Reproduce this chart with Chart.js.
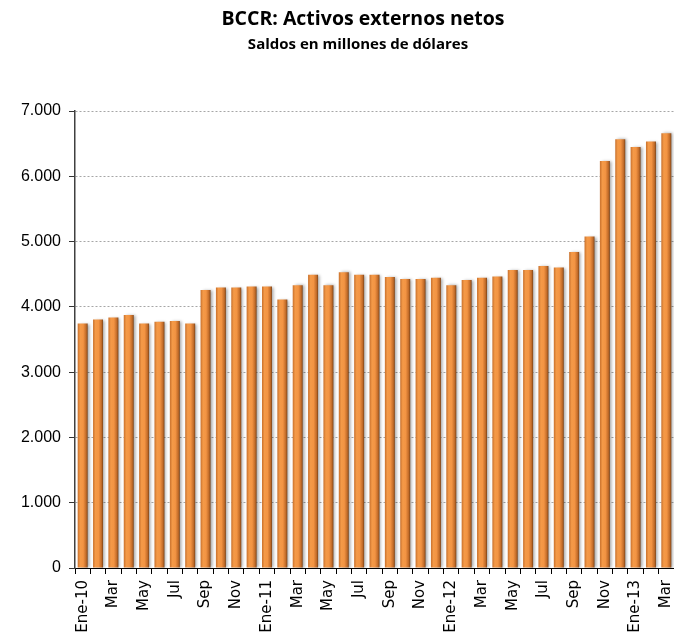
<!DOCTYPE html>
<html>
<head>
<meta charset="utf-8">
<script src="https://cdn.jsdelivr.net/npm/chart.js@4/dist/chart.umd.min.js"></script>
<style>
  html, body { margin: 0; padding: 0; background: #fff; }
  #wrap { width: 674px; height: 639px; }
</style>
</head>
<body>
<div id="wrap"><canvas id="chart"></canvas></div>
<script>
// Tick labels (every other month shown)
const monthLabels = [
  'Ene-10', '', 'Mar', '', 'May', '', 'Jul', '', 'Sep', '', 'Nov', '',
  'Ene-11', '', 'Mar', '', 'May', '', 'Jul', '', 'Sep', '', 'Nov', '',
  'Ene-12', '', 'Mar', '', 'May', '', 'Jul', '', 'Sep', '', 'Nov', '',
  'Ene-13', '', 'Mar'
];

// Saldos en millones de dólares
const netAssets = [
  3745, 3806, 3836, 3877, 3745, 3770, 3785, 3745, 4260, 4296, 4296, 4311,
  4311, 4112, 4331, 4490, 4331, 4530, 4490, 4490, 4459, 4428, 4428, 4444,
  4331, 4413, 4444, 4464, 4566, 4566, 4627, 4602, 4842, 5077, 6235, 6567,
  6450, 6531, 6659
];

const yTicks = [0, 1000, 2000, 3000, 4000, 5000, 6000, 7000];

const titleText = 'BCCR: Activos externos netos';
const subtitleText = 'Saldos en millones de dólares';

function formatThousands(v) {
  return String(v).replace(/\B(?=(\d{3})+(?!\d))/g, '.');
}

function barGradient(context) {
  const chart = context.chart;
  const x = chart.scales.x;
  if (!x || !chart.chartArea) return '#f0913f';
  const center = x.getPixelForValue(context.dataIndex);
  const step = x.getPixelForTick(1) - x.getPixelForTick(0);
  const w = step * 0.65 / 2;
  const g = chart.ctx.createLinearGradient(center - w, 0, center + w, 0);
  g.addColorStop(0, '#c8702c');
  g.addColorStop(0.25, '#f49a48');
  g.addColorStop(0.55, '#f39443');
  g.addColorStop(0.85, '#c06a28');
  g.addColorStop(1, '#7a4318');
  return g;
}

const titlePlugin = {
  id: 'titles',
  afterDraw(chart) {
    const ctx = chart.ctx;
    ctx.save();
    ctx.fillStyle = '#000';
    ctx.textAlign = 'center';
    ctx.textBaseline = 'middle';
    ctx.font = 'bold 19.5px "Open Sans", "Liberation Sans", sans-serif';
    ctx.fillText(titleText, 363, 19);
    ctx.font = 'bold 15px "Open Sans", "Liberation Sans", sans-serif';
    ctx.fillText(subtitleText, 358, 45);
    ctx.restore();
  }
};

const shadowPlugin = {
  id: 'barShadow',
  beforeDatasetsDraw(chart) {
    const ctx = chart.ctx;
    ctx.save();
    ctx.shadowColor = 'rgba(0,0,0,0.35)';
    ctx.shadowBlur = 3;
    ctx.shadowOffsetX = 2;
    ctx.shadowOffsetY = 0;
  },
  afterDatasetsDraw(chart) {
    chart.ctx.restore();
  }
};

new Chart(document.getElementById('chart'), {
  type: 'bar',
  data: {
    labels: monthLabels,
    datasets: [{
      data: netAssets,
      backgroundColor: barGradient,
      borderWidth: 0,
      barPercentage: 0.65,
      categoryPercentage: 1
    }]
  },
  options: {
    responsive: true,
    maintainAspectRatio: false,
    animation: false,
    layout: { padding: { top: 111, right: 0, left: 0, bottom: 0 } },
    plugins: {
      legend: { display: false },
      tooltip: { enabled: false },
      title: { display: false }
    },
    scales: {
      x: {
        afterFit(scale) {
          scale.height = 71;
          scale.paddingLeft = 0;
          scale.paddingRight = 0;
        },
        grid: {
          display: true,
          drawOnChartArea: false,
          drawTicks: true,
          tickLength: 6,
          color: '#000',
          offset: true
        },
        border: { display: true, color: '#000', width: 1 },
        ticks: {
          autoSkip: false,
          maxRotation: 90,
          minRotation: 90,
          padding: 6,
          color: '#000',
          font: { family: '"DejaVu Sans", sans-serif', size: 15 }
        }
      },
      y: {
        min: 0,
        max: 7000,
        afterFit(scale) { scale.width = 75; },
        afterBuildTicks(scale) { scale.ticks = yTicks.map(v => ({ value: v })); },
        grid: {
          color: '#a6a6a6',
          lineWidth: 1,
          drawTicks: true,
          tickLength: 6,
          tickColor: '#333',
          tickBorderDash: [0, 0]
        },
        border: { display: true, color: '#404040', width: 1.5, dash: [2, 2] },
        ticks: {
          padding: 8,
          color: '#000',
          font: { family: '"Liberation Sans", Arial, sans-serif', size: 16 },
          callback: v => formatThousands(v)
        }
      }
    }
  },
  plugins: [titlePlugin, shadowPlugin]
});
</script>
</body>
</html>
